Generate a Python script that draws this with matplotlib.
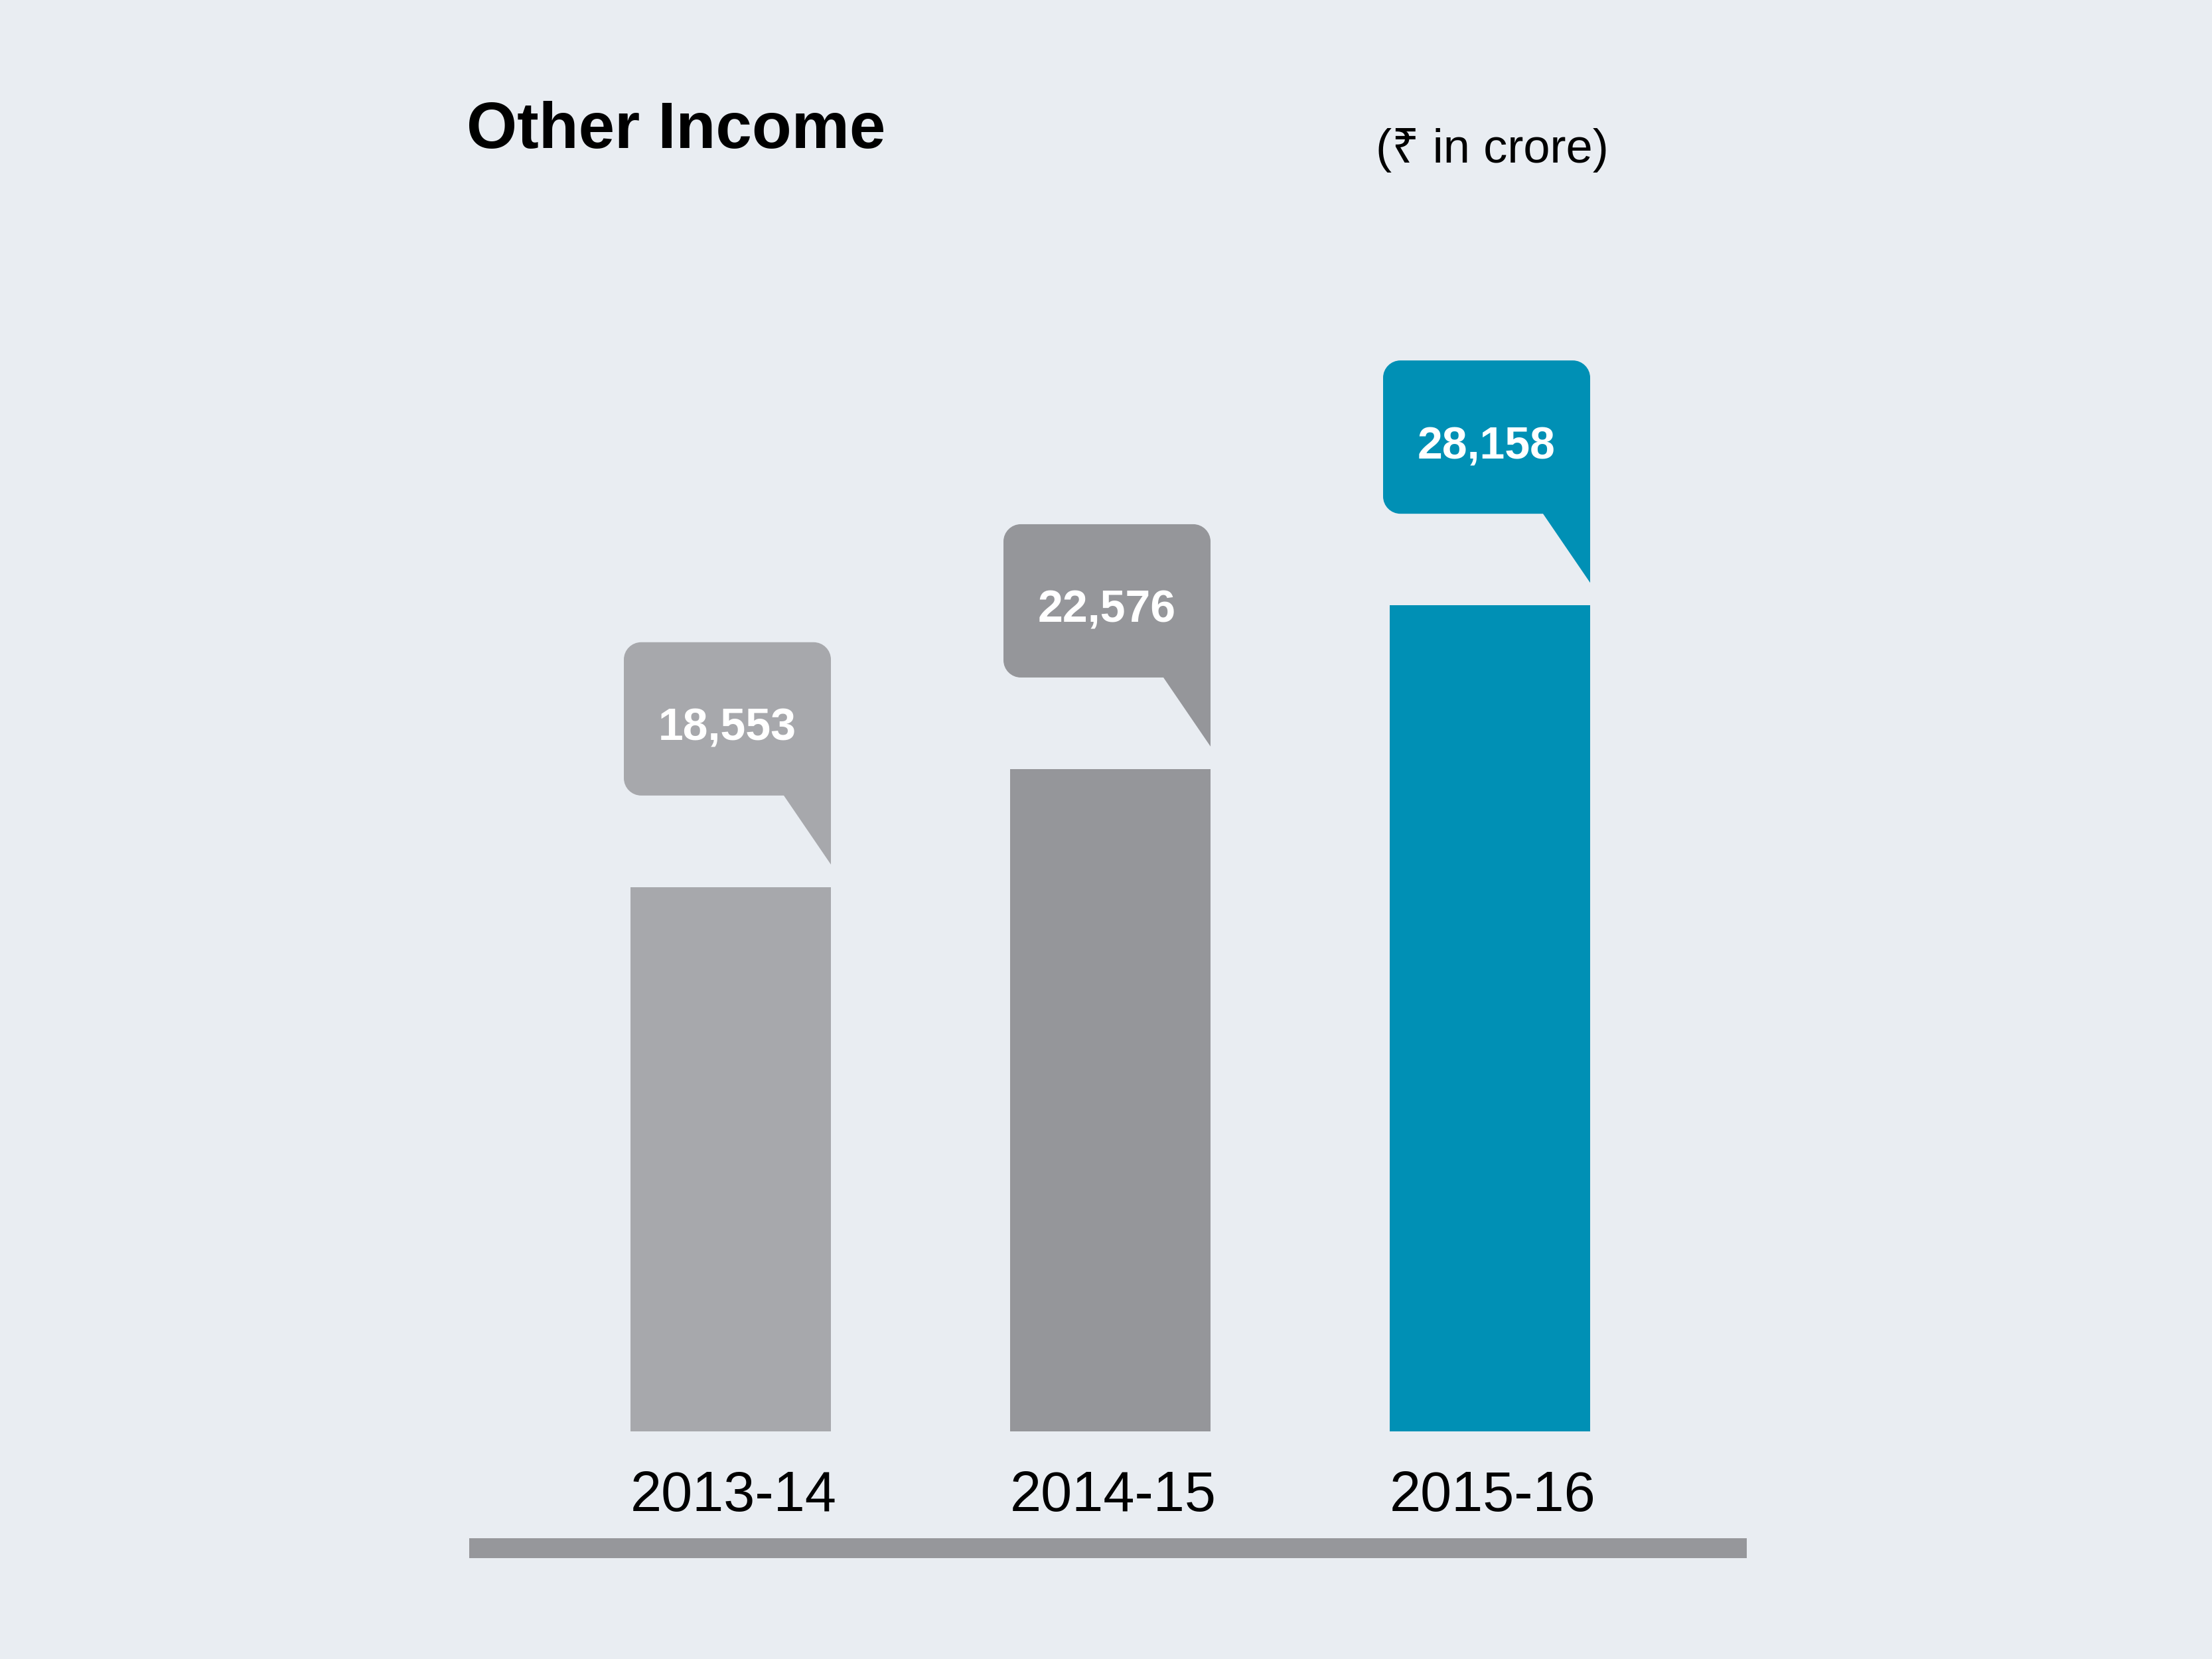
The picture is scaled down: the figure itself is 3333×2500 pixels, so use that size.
import matplotlib
matplotlib.use("Agg")
import matplotlib.pyplot as plt
from matplotlib.path import Path
from matplotlib.patches import PathPatch, Rectangle
import matplotlib.transforms as mtransforms

# ---- data ----
years = ["2013-14", "2014-15", "2015-16"]
values = [18553, 22576, 28158]
value_labels = ["18,553", "22,576", "28,158"]
bar_colors = ["#A7A8AC", "#95969A", "#0090B5"]

title = "Other Income"
unit_note = "(\u20b9 in crore)"

BG = "#E9EDF2"
DPI = 100
fig = plt.figure(figsize=(33.33, 25), dpi=DPI, facecolor=BG)
ax = fig.add_axes([0, 0, 1, 1])
ax.set_facecolor(BG)
ax.set_axis_off()

# scale: pixel mapping
ax.set_xlim(-1101 / 572, (3333 - 1101) / 572)
upp = 22.62
ax.set_ylim(-343 * upp, (2500 - 343) * upp)

bw = 0.528
xs = list(range(len(values)))
ax.bar(xs, values, width=bw, color=bar_colors, edgecolor="none", zorder=2)

bold_fam = ["Liberation Sans", "DejaVu Sans"]
regular = ["Liberation Sans", "Noto Sans", "DejaVu Sans"]


def callout_path():
    # pixel offsets relative to (bar right edge, bar top); y up
    gap, tail, boxh, boxw, r, tail_dx = 34, 104, 231, 312, 26, 71
    yb = gap + tail
    yt = yb + boxh
    xl = -boxw
    xr = 0
    k = 0.55
    verts = [
        (xr, gap),                 # tip
        (xr, yt - r),
        (xr, yt - r + r * k), (xr - r + r * k, yt), (xr - r, yt),
        (xl + r, yt),
        (xl + r - r * k, yt), (xl, yt - r + r * k), (xl, yt - r),
        (xl, yb + r),
        (xl, yb + r - r * k), (xl + r - r * k, yb), (xl + r, yb),
        (xr - tail_dx, yb),
        (xr, gap),
    ]
    codes = [Path.MOVETO, Path.LINETO,
             Path.CURVE4, Path.CURVE4, Path.CURVE4,
             Path.LINETO,
             Path.CURVE4, Path.CURVE4, Path.CURVE4,
             Path.LINETO,
             Path.CURVE4, Path.CURVE4, Path.CURVE4,
             Path.LINETO, Path.CLOSEPOLY]
    return Path(verts, codes), (xl + xr) / 2, yb + 83


for x, v, lab, c in zip(xs, values, value_labels, bar_colors):
    path, tx, ty = callout_path()
    trans = mtransforms.Affine2D() + mtransforms.ScaledTranslation(x + bw / 2, v, ax.transData)
    ax.add_patch(PathPatch(path, facecolor=c, edgecolor="none", transform=trans, zorder=3))
    ax.annotate(lab, xy=(x + bw / 2, v), xytext=(tx, ty), textcoords="offset pixels",
                ha="center", va="baseline", color="white", fontsize=49,
                fontweight="bold", family=bold_fam, zorder=4)

for x, y in zip(xs, years):
    ax.annotate(y, xy=(x, 0), xytext=(4, -120), textcoords="offset pixels",
                ha="center", va="baseline", color="black", fontsize=61,
                family=regular)

# baseline rule below labels
fig.patches.append(Rectangle((707 / 3333, (2500 - 2348) / 2500), (2632 - 707) / 3333, 30 / 2500,
                             transform=fig.transFigure, facecolor="#96979B",
                             edgecolor="none", zorder=1))

fig.text(703 / 3333, 1 - 223 / 2500, title, fontsize=70.5, fontweight="bold",
         family=bold_fam, ha="left", va="baseline", color="black")
fig.text(2073 / 3333, 1 - 245 / 2500, unit_note, fontsize=52,
         family=regular, ha="left", va="baseline", color="black")

fig.savefig("out.png", dpi=DPI, facecolor=BG)
